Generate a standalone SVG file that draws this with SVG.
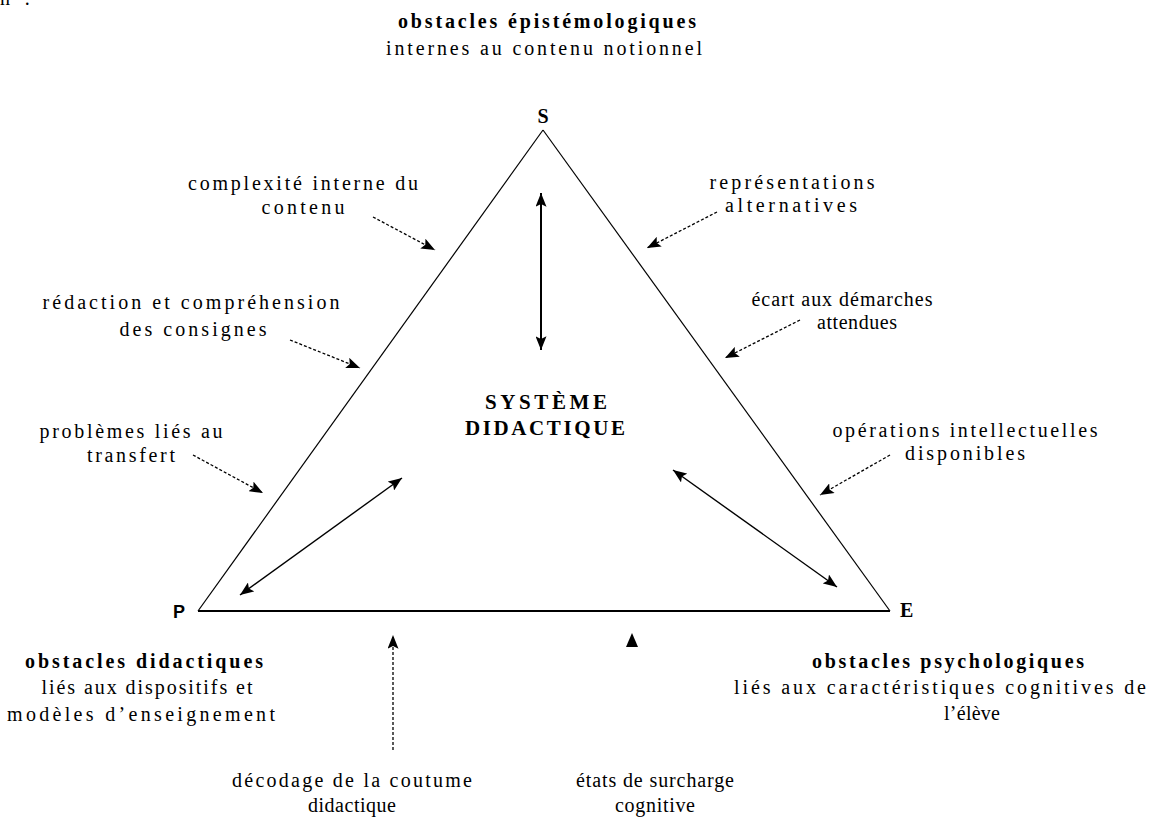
<svg xmlns="http://www.w3.org/2000/svg" width="1159" height="821" viewBox="0 0 1159 821">
  <style>
    .t { font-family: "Liberation Serif", "Times New Roman", serif; font-size: 20px; fill: #000; text-anchor: middle; }
    .b { font-weight: bold; }
    .cap { font-family: "Liberation Serif", "Times New Roman", serif; font-size: 20px; font-weight: bold; fill: #000; }
    .side { stroke: #000; stroke-width: 1.2; fill: none; }
    .base { stroke: #000; stroke-width: 2; fill: none; }
    .dash { stroke: #000; stroke-width: 1.3; stroke-dasharray: 3 2; fill: none; marker-end: url(#head); }
    .both { stroke: #000; stroke-width: 1.4; fill: none; marker-start: url(#head); marker-end: url(#head); }
  </style>
  <defs>
    <marker id="head" viewBox="0 0 10 8" refX="10" refY="4" markerWidth="14" markerHeight="11" markerUnits="userSpaceOnUse" orient="auto-start-reverse">
      <path d="M0,0 L10,4 L0,8 L2,4 z" fill="#000"/>
    </marker>
  </defs>

  <rect width="1159" height="821" fill="#fff"/>

  <!-- clipped tail of a preceding line -->
  <text class="t" x="0" y="5" style="text-anchor:start" textLength="30" lengthAdjust="spacing">n :</text>

  <!-- triangle edges -->
  <g id="triangle">
    <line class="side" x1="543" y1="130" x2="198" y2="611"/>
    <line class="side" x1="543" y1="130" x2="890" y2="611"/>
    <line class="base" x1="198" y1="611" x2="890" y2="611"/>
  </g>

  <!-- vertices -->
  <g id="vertex-S">
    <text class="cap" x="543" y="123" text-anchor="middle">S</text>
  </g>
  <g id="vertex-P">
    <text x="173" y="618" style="font-family:'Liberation Sans', Arial, sans-serif; font-size:18px; font-weight:bold">P</text>
  </g>
  <g id="vertex-E">
    <text class="cap" x="900" y="617">E</text>
  </g>

  <!-- centre -->
  <g id="systeme">
    <text class="cap" x="546" y="409" text-anchor="middle" textLength="122" lengthAdjust="spacing" style="font-size:21px">SYSTÈME</text>
    <text class="cap" x="545" y="435" text-anchor="middle" textLength="160" lengthAdjust="spacing" style="font-size:21px">DIDACTIQUE</text>
  </g>

  <!-- obstacle families -->
  <g id="obstacles-epistemologiques">
    <text class="t b" x="547" y="28" textLength="298" lengthAdjust="spacing">obstacles épistémologiques</text>
    <text class="t" x="544" y="55" textLength="316" lengthAdjust="spacing">internes au contenu notionnel</text>
  </g>
  <g id="obstacles-didactiques">
    <text class="t b" x="144" y="668" textLength="238" lengthAdjust="spacing">obstacles didactiques</text>
    <text class="t" x="147" y="694" textLength="211" lengthAdjust="spacing">liés aux dispositifs et</text>
    <text class="t" x="141" y="721" textLength="268" lengthAdjust="spacing">modèles d’enseignement</text>
  </g>
  <g id="obstacles-psychologiques">
    <text class="t b" x="948" y="668" textLength="272" lengthAdjust="spacing">obstacles psychologiques</text>
    <text class="t" x="940" y="694" textLength="412" lengthAdjust="spacing">liés aux caractéristiques cognitives de</text>
    <text class="t" x="972" y="720" textLength="56" lengthAdjust="spacing">l’élève</text>
  </g>

  <!-- side labels -->
  <g id="complexite">
    <text class="t" x="303" y="190" textLength="230" lengthAdjust="spacing">complexité interne du</text>
    <text class="t" x="303" y="214" textLength="83" lengthAdjust="spacing">contenu</text>
  </g>
  <g id="redaction">
    <text class="t" x="191" y="309" textLength="297" lengthAdjust="spacing">rédaction et compréhension</text>
    <text class="t" x="193" y="336" textLength="147" lengthAdjust="spacing">des consignes</text>
  </g>
  <g id="transfert">
    <text class="t" x="131" y="438" textLength="183" lengthAdjust="spacing">problèmes liés au</text>
    <text class="t" x="131" y="462" textLength="88" lengthAdjust="spacing">transfert</text>
  </g>
  <g id="representations">
    <text class="t" x="792" y="189" textLength="165" lengthAdjust="spacing">représentations</text>
    <text class="t" x="791" y="212" textLength="132" lengthAdjust="spacing">alternatives</text>
  </g>
  <g id="ecart">
    <text class="t" x="842" y="306" textLength="181" lengthAdjust="spacing">écart aux démarches</text>
    <text class="t" x="857" y="329" textLength="80" lengthAdjust="spacing">attendues</text>
  </g>
  <g id="operations">
    <text class="t" x="965" y="437" textLength="265" lengthAdjust="spacing">opérations intellectuelles</text>
    <text class="t" x="965" y="460" textLength="120" lengthAdjust="spacing">disponibles</text>
  </g>
  <g id="coutume">
    <text class="t" x="352" y="787" textLength="240" lengthAdjust="spacing">décodage de la coutume</text>
    <text class="t" x="352" y="812" textLength="88" lengthAdjust="spacing">didactique</text>
  </g>
  <g id="surcharge">
    <text class="t" x="655" y="787" textLength="158" lengthAdjust="spacing">états de surcharge</text>
    <text class="t" x="655" y="812" textLength="80" lengthAdjust="spacing">cognitive</text>
  </g>

  <!-- connectors -->
  <g id="connectors">
    <line class="dash" x1="373" y1="217" x2="435" y2="250"/>
    <line class="dash" x1="290" y1="340" x2="360" y2="368"/>
    <line class="dash" x1="193" y1="455" x2="263" y2="493"/>
    <line class="dash" x1="717" y1="212" x2="647" y2="248"/>
    <line class="dash" x1="800" y1="320" x2="725" y2="358"/>
    <line class="dash" x1="890" y1="455" x2="820" y2="495"/>
    <line class="dash" x1="393" y1="750" x2="393" y2="635"/>
    <path d="M632,633 L638,647 L626,647 z" fill="#000"/>
    <line class="both" x1="541" y1="193" x2="541" y2="350" style="stroke-width:2"/>
    <line class="both" x1="402" y1="478" x2="240" y2="595"/>
    <line class="both" x1="673" y1="470" x2="837" y2="587"/>
  </g>
</svg>
